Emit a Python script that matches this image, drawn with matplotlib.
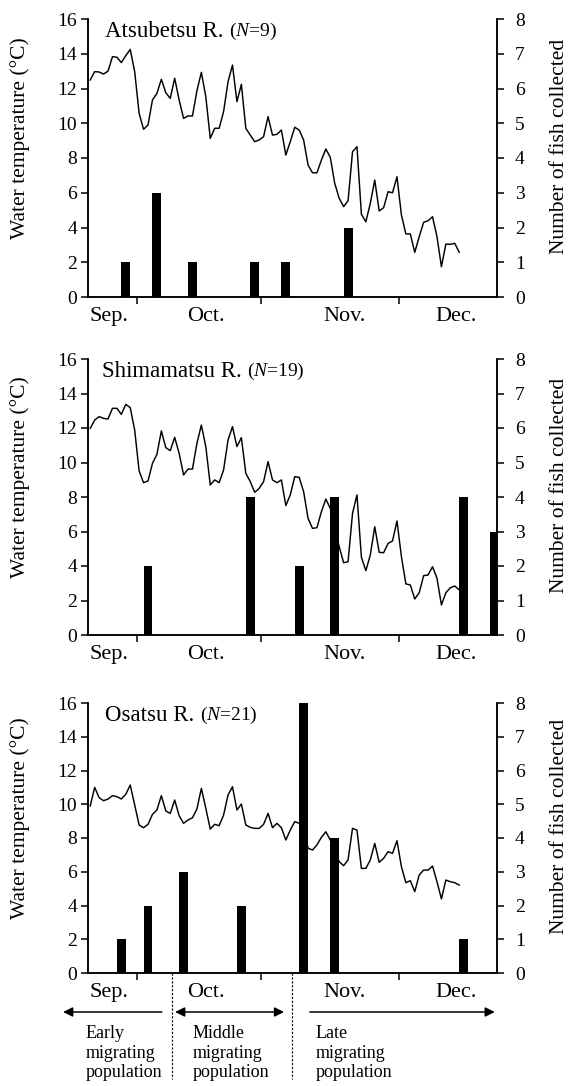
import numpy as np
import matplotlib
matplotlib.use("Agg")
import matplotlib.pyplot as plt

plt.rcParams['font.family'] = ['Liberation Serif', 'DejaVu Serif']
plt.rcParams['mathtext.fontset'] = 'custom'
plt.rcParams['mathtext.rm'] = 'Liberation Serif'
plt.rcParams['mathtext.it'] = 'Liberation Serif:italic'

# ---------------- data ----------------
days = list(range(84))

atsu_temp = [12.49, 12.97, 12.95, 12.83, 13.0, 13.83, 13.8, 13.49, 13.89, 14.25,
             12.97, 10.57, 9.65, 9.9, 11.34, 11.72, 12.53, 11.76, 11.43, 12.59,
             11.34, 10.28, 10.42, 10.42, 11.87, 12.93, 11.53, 9.13, 9.71, 9.71,
             10.67, 12.39, 13.35, 11.24, 12.24, 9.71, 9.32, 8.94, 9.04, 9.23,
             10.38, 9.32, 9.36, 9.61, 8.17, 8.94, 9.77, 9.61, 9.04, 7.6,
             7.15, 7.15, 7.88, 8.52, 8.04, 6.54, 5.68, 5.2, 5.54, 8.36,
             8.65, 4.76, 4.33, 5.39, 6.73, 4.95, 5.14, 6.06, 6.0, 6.92,
             4.72, 3.63, 3.63, 2.57, 3.47, 4.3, 4.39, 4.62, 3.47, 1.74,
             3.05, 3.03, 3.09, 2.57]
atsu_fish_day = [8, 15, 23, 37, 44, 58]
atsu_fish = [1, 3, 1, 1, 1, 2]

shima_temp = [11.98, 12.46, 12.66, 12.56, 12.52, 13.14, 13.14, 12.79, 13.37, 13.18,
              11.88, 9.51, 8.83, 8.93, 9.95, 10.47, 11.83, 10.86, 10.69, 11.46,
              10.53, 9.28, 9.62, 9.62, 11.11, 12.17, 10.92, 8.7, 8.99, 8.83,
              9.57, 11.3, 12.08, 10.92, 11.44, 9.37, 8.89, 8.27, 8.5, 8.89,
              10.05, 8.99, 8.83, 8.99, 7.5, 8.12, 9.18, 9.14, 8.31, 6.76,
              6.18, 6.22, 7.15, 7.88, 7.34, 6.2, 5.12, 4.19, 4.25, 7.05,
              8.12, 4.5, 3.73, 4.64, 6.28, 4.79, 4.77, 5.31, 5.45, 6.61,
              4.54, 2.96, 2.9, 2.09, 2.45, 3.44, 3.48, 3.96, 3.29, 1.74,
              2.45, 2.74, 2.84, 2.61]
shima_fish_day = [13, 36, 47, 55, 84, 91]
shima_fish = [2, 4, 2, 4, 4, 3]

osa_temp = [9.9, 11.0, 10.39, 10.21, 10.31, 10.51, 10.45, 10.31, 10.59, 11.14,
            9.96, 8.77, 8.61, 8.81, 9.4, 9.66, 10.51, 9.6, 9.46, 10.25,
            9.32, 8.87, 9.07, 9.2, 9.72, 10.94, 9.76, 8.53, 8.81, 8.73,
            9.36, 10.55, 11.04, 9.66, 10.01, 8.77, 8.63, 8.57, 8.57, 8.81,
            9.46, 8.61, 8.87, 8.61, 7.88, 8.47, 8.97, 8.87, 8.6, 7.39,
            7.29, 7.59, 8.04, 8.37, 7.88, 7.2, 6.6, 6.36, 6.7, 8.57,
            8.47, 6.2, 6.2, 6.7, 7.68, 6.56, 6.8, 7.19, 7.09, 7.84,
            6.3, 5.35, 5.47, 4.82, 5.81, 6.1, 6.1, 6.34, 5.41, 4.39,
            5.51, 5.41, 5.35, 5.21]
osa_fish_day = [7, 13, 21, 34, 48, 55, 84]
osa_fish = [1, 2, 3, 2, 8, 4, 1]

month_labels = ['Sep.', 'Oct.', 'Nov.', 'Dec.']
month_label_pos = [4.2, 26.0, 57.1, 82.3]
month_tick_pos = [10.5, 38.5, 69.5]

rivers = ['Atsubetsu R.', 'Shimamatsu R.', 'Osatsu R.']
river_n = [9, 19, 21]

# period boundaries (days) and population labels
period_bounds = [18.4, 45.4]
pop_labels = ['Early\nmigrating\npopulation', 'Middle\nmigrating\npopulation',
              'Late\nmigrating\npopulation']

# ---------------- figure ----------------
W, H = 569, 1086
fig = plt.figure(figsize=(W / 100, H / 100), dpi=100)

LW = 1.1
ax_left, ax_right = 88, 497
panels_px = [(19, 297), (359, 635), (703, 973)]
title_x = [0.042, 0.034, 0.042]


def make_panel(top_px, bot_px, temps, fday, fish, name, n, tx):
    rect = [ax_left / W, 1 - bot_px / H, (ax_right - ax_left) / W, (bot_px - top_px) / H]
    ax = fig.add_axes(rect)
    ax.plot(days, temps, color='black', lw=1.05, zorder=2)
    ax.set_xlim(-0.5, 91.5)
    ax.set_ylim(0, 16)
    ax.set_yticks(range(0, 17, 2))
    ax.spines['top'].set_visible(False)
    for s in ['left', 'right', 'bottom']:
        ax.spines[s].set_linewidth(LW)
    ax.set_xticks(month_tick_pos)
    ax.set_xticklabels([])
    ax.set_xticks(month_label_pos, minor=True)
    ax.set_xticklabels(month_labels, minor=True, fontsize=16)
    ax.tick_params(axis='x', which='major', direction='out', length=5, width=LW)
    ax.tick_params(axis='x', which='minor', length=0, pad=7)
    ax.tick_params(axis='y', direction='out', length=5, width=LW, labelsize=14, pad=3)

    ax2 = ax.twinx()
    ax2.bar(fday, fish, width=2.0, color='black', zorder=3)
    ax2.set_ylim(0, 8)
    ax2.set_yticks(range(0, 9))
    ax2.spines['top'].set_visible(False)
    for s in ['left', 'right', 'bottom']:
        ax2.spines[s].set_linewidth(LW)
    ax2.tick_params(axis='y', direction='out', length=5, width=LW, labelsize=14, pad=8)

    t1 = ax.text(tx, 0.935, name + ' ', transform=ax.transAxes, fontsize=16.5,
                 va='baseline', ha='left')
    ax.annotate('(' + r'$N$' + '=%d)' % n, xy=(1, 0), xycoords=t1, fontsize=14,
                va='bottom', ha='left')

    cy = (top_px + bot_px) / 2
    fig.text(20 / W, 1 - (cy - 20) / H, 'Water temperature (°C)', rotation=90,
             ha='center', va='center', fontsize=15.5)
    fig.text(560 / W, 1 - (cy - 12) / H, 'Number of fish collected', rotation=90,
             ha='center', va='center', fontsize=15.5)
    return ax, ax2


series = [(atsu_temp, atsu_fish_day, atsu_fish),
          (shima_temp, shima_fish_day, shima_fish),
          (osa_temp, osa_fish_day, osa_fish)]

axes = []
for (tp, bp), (t, fd, f), name, n, tx in zip(panels_px, series, rivers, river_n, title_x):
    axes.append(make_panel(tp, bp, t, fd, f, name, n, tx))

# ---------------- bottom annotations ----------------
axb = axes[2][0]
bot_h = panels_px[2][1] - panels_px[2][0]
arrow_y = -(1012 - 973) / bot_h
line_bottom = -(1079 - 973) / bot_h
text_top = -(1025 - 973) / bot_h

for xb in period_bounds:
    axb.plot([xb, xb], [0, line_bottom], transform=axb.get_xaxis_transform(),
             color='black', lw=0.8, ls=(0, (2, 1.5)), clip_on=False)

arrow_kw = dict(lw=1.1, color='black', shrinkA=0, shrinkB=0, mutation_scale=14)
# early: arrow pointing left
axb.annotate('', xy=(-6.1, arrow_y), xytext=(16.1, arrow_y),
             xycoords=('data', 'axes fraction'), textcoords=('data', 'axes fraction'),
             arrowprops=dict(arrowstyle='-|>', **arrow_kw))
# middle: double-headed
axb.annotate('', xy=(19.1, arrow_y), xytext=(43.6, arrow_y),
             xycoords=('data', 'axes fraction'), textcoords=('data', 'axes fraction'),
             arrowprops=dict(arrowstyle='<|-|>', **arrow_kw))
# late: arrow pointing right
axb.annotate('', xy=(91.0, arrow_y), xytext=(49.4, arrow_y),
             xycoords=('data', 'axes fraction'), textcoords=('data', 'axes fraction'),
             arrowprops=dict(arrowstyle='-|>', **arrow_kw))

for xt, lab in zip([-0.95, 23.1, 50.6], pop_labels):
    axb.text(xt, text_top, lab, transform=axb.get_xaxis_transform(), fontsize=13,
             va='top', ha='left', linespacing=1.2, clip_on=False)

fig.savefig('out.png', dpi=100)
